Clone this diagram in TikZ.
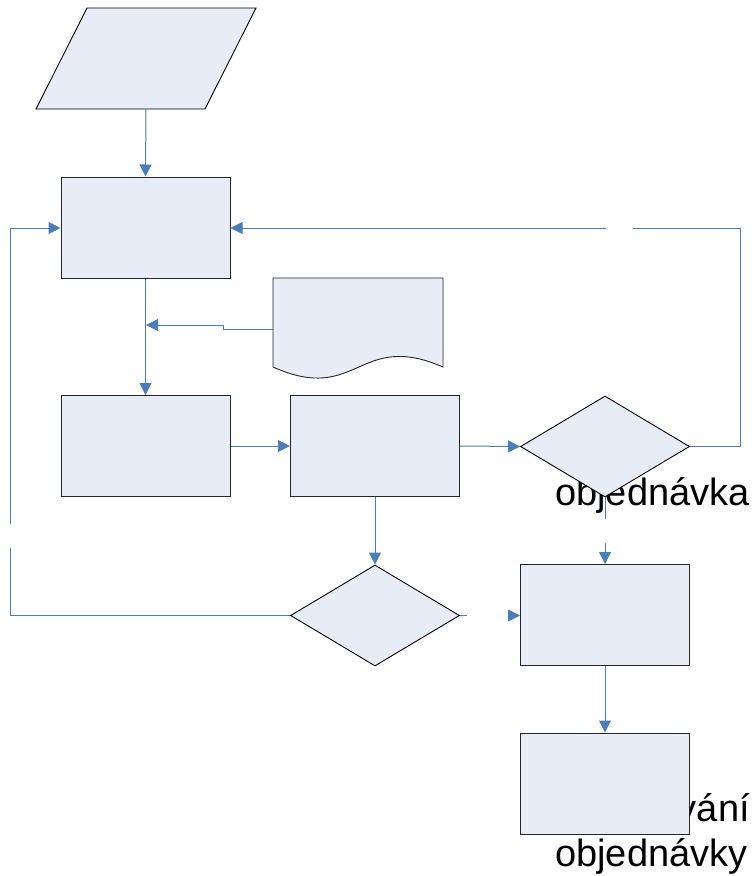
\documentclass[tikz,border=0pt]{standalone}
\usepackage{fontspec}
\setmainfont{Liberation Sans}
\usetikzlibrary{arrows.meta,shapes.geometric}

\definecolor{shapefill}{RGB}{231,236,246}
\definecolor{linkblue}{RGB}{74,126,187}

\tikzset{
  box/.style={draw=black!85, fill=shapefill, line width=1pt,
    minimum width=169pt, minimum height=101pt, inner sep=0pt},
  decision/.style={draw=black, fill=shapefill, line width=0.9pt,
    diamond, aspect=1.7, minimum width=169pt, minimum height=101pt, inner sep=0pt},
  link/.style={draw=linkblue, line width=1pt},
  arrow/.style={link, -{Triangle[length=12pt,width=12pt]}},
  label/.style={font=\fontsize{38}{43}\selectfont, inner sep=0pt, text=black}
}

\begin{document}
\begin{tikzpicture}[x=1pt,y=-1pt]
\useasboundingbox (0,0) rectangle (752,876);

% labels sit behind the shapes
\node[label, anchor=base west] (lblorder) at (555,505) {objednávka};
\node[label, anchor=base east] (lblproc) at (750,821) {vání};
\node[label, anchor=base west] (lblorders) at (555,866) {objednávky};

% input (parallelogram)
\filldraw[draw=black, fill=shapefill, line width=0.9pt]
  (87,8) -- (256,8) -- (205,109) -- (36,109) -- cycle;
\coordinate (input) at (146,109);

% document shape
\filldraw[draw=black!85, fill=shapefill, line width=0.9pt]
  (273,367) -- (273,278) -- (443,278) -- (443,367)
  .. controls (358,330) and (358,405) .. (273,367);
\coordinate (doc) at (273,329);

% process steps
\node[box] (load) at (145.5,227.5) {};
\node[box] (check) at (145.5,446) {};
\node[box] (sort) at (375,446) {};
\node[box] (order) at (605,615) {};
\node[box] (proc) at (605,783.5) {};

% decisions
\node[decision] (dec1) at (605,446.5) {};
\node[decision] (dec2) at (375,615.5) {};

% connectors
\draw[arrow] (input) -- (load.north);
\draw[arrow] (load.south) -- (check.north);
\draw[arrow] (doc) -- (223,329) -- (223,325) -- (146,325);
\draw[arrow] (check.east) -- (sort.west);
\draw[arrow] (sort.east) -- (dec1.west);
\draw[arrow] (sort.south) -- (dec2.north);
\draw[arrow] (order.south) -- (proc.north);

% loop back from the first decision
\coordinate (backA) at (633,228);
\coordinate (backB) at (606,228);
\draw[link] (dec1.east) -- (740,446.5) -- (740,228) -- (backA);
\draw[arrow] (backB) -- (load.east |- backB);

% loop back from the second decision
\coordinate (leftA) at (10,548);
\coordinate (leftB) at (10,524);
\draw[link] (dec2.west) -- (10,615.5) -- (leftA);
\draw[arrow] (leftB) -- (10,228) -- (load.west |- 0,228);

% to the order step
\coordinate (yesA) at (467,615.5);
\coordinate (yesB) at (508,615.5);
\draw[link] (dec2.east) -- (yesA);
\draw[arrow] (yesB) -- (order.west |- yesB);
\coordinate (downA) at (605,519);
\coordinate (downB) at (605,543);
\draw[link] (dec1.south) -- (downA);
\draw[arrow] (downB) -- (order.north);
\end{tikzpicture}
\end{document}
